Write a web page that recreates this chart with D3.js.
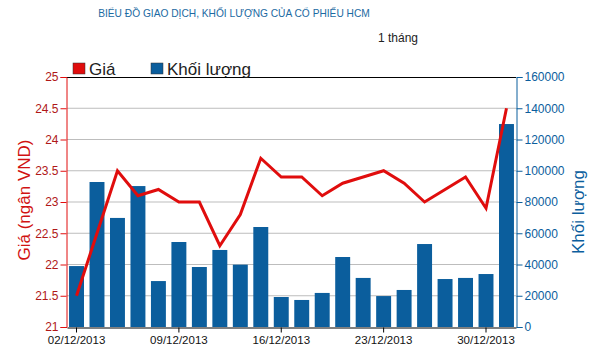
<!DOCTYPE html>
<html lang="vi">
<head>
<meta charset="UTF-8">
<title>HCM</title>
<script src="https://d3js.org/d3.v7.min.js"></script>
<style>
  body { margin: 0; background: #fff; }
  svg { display: block; font-family: "Liberation Sans", Arial, sans-serif; }
</style>
</head>
<body>
<svg width="593" height="352"></svg>
<script>
// data
let dates = ["02/12/2013","03/12/2013","04/12/2013","05/12/2013","06/12/2013",
             "09/12/2013","10/12/2013","11/12/2013","12/12/2013","13/12/2013",
             "16/12/2013","17/12/2013","18/12/2013","19/12/2013","20/12/2013",
             "23/12/2013","24/12/2013","25/12/2013","26/12/2013","27/12/2013",
             "30/12/2013","31/12/2013"];
let price = [21.5, 22.5, 23.5, 23.1, 23.2, 23.0, 23.0, 22.3, 22.8, 23.7, 23.4,
             23.4, 23.1, 23.3, 23.4, 23.5, 23.3, 23.0, 23.2, 23.4, 22.9, 24.5];
let volume = [39000, 92800, 69800, 90200, 29400, 54400, 38400, 49300, 39900, 64000, 19200,
              17300, 21800, 44800, 31400, 19800, 23700, 53100, 30700, 31400, 33900, 129900];
let xTickLabels = ["02/12/2013","09/12/2013","16/12/2013","23/12/2013","30/12/2013"];
let priceTicks = [21, 21.5, 22, 22.5, 23, 23.5, 24, 24.5, 25];
let volTicks = [0, 20000, 40000, 60000, 80000, 100000, 120000, 140000, 160000];

let red = "#e00d0d", blue = "#0b5e9d", title = "#1c6aa2";
let svg = d3.select("svg");
let m = {left: 67, right: 516, top: 77, bottom: 327};

let x = d3.scaleBand().domain(dates).range([m.left, m.right])
          .paddingInner(0.27).paddingOuter(0.1);
let yP = d3.scaleLinear().domain([21, 25]).range([m.bottom, m.top]);
let yV = d3.scaleLinear().domain([0, 160000]).range([m.bottom, m.top]);

// title
svg.append("text").attr("x", 234).attr("y", 17).attr("text-anchor", "middle")
   .style("font-size", "10.2px").style("fill", title)
   .text("BIỂU ĐỒ GIAO DỊCH, KHỐI LƯỢNG CỦA CỔ PHIẾU HCM");
svg.append("text").attr("x", 418).attr("y", 42).attr("text-anchor", "end")
   .style("font-size", "12px").style("fill", "#222").text("1 tháng");

// grid
svg.append("g").selectAll("line").data(priceTicks.slice(1, -1)).enter().append("line")
   .attr("x1", m.left).attr("x2", m.right)
   .attr("y1", d => yP(d)).attr("y2", d => yP(d))
   .style("stroke", "#bdbdbd").style("stroke-width", 1);

// bars
svg.append("g").selectAll("rect").data(volume).enter().append("rect")
   .attr("x", (d, i) => x(dates[i]))
   .attr("y", d => yV(d))
   .attr("width", x.bandwidth())
   .attr("height", d => m.bottom - yV(d))
   .style("fill", blue);

// price line
let line = d3.line().x((d, i) => x(dates[i]) + x.bandwidth() / 2).y(d => yP(d));
svg.append("path").datum(price).attr("d", line)
   .style("fill", "none").style("stroke", red).style("stroke-width", 3)
   .style("stroke-linejoin", "miter");

// top border
svg.append("line").attr("x1", m.left).attr("x2", m.right)
   .attr("y1", m.top + 0.5).attr("y2", m.top + 0.5).style("stroke", "#000");

// left axis
let ax1 = svg.append("g").attr("transform", "translate(" + (m.left - 0.5) + ",0)")
   .call(d3.axisLeft(yP).tickValues(priceTicks).tickSize(6).tickPadding(2).tickFormat(d3.format("")));
ax1.selectAll("path, line").style("stroke", red);
ax1.selectAll("text").style("fill", "#b01818").style("font-size", "12px")
   .style("font-family", "Liberation Sans, Arial, sans-serif");

// right axis
let ax2 = svg.append("g").attr("transform", "translate(" + (m.right + 0.5) + ",0)")
   .call(d3.axisRight(yV).tickValues(volTicks).tickSize(6).tickPadding(2).tickFormat(d3.format("d")));
ax2.selectAll("path, line").style("stroke", blue);
ax2.selectAll("text").style("fill", blue).style("font-size", "12px")
   .style("font-family", "Liberation Sans, Arial, sans-serif");

// bottom axis
let ax3 = svg.append("g").attr("transform", "translate(0," + (m.bottom + 0.5) + ")")
   .call(d3.axisBottom(x).tickValues(xTickLabels).tickSize(5).tickPadding(3).tickSizeOuter(0));
ax3.selectAll("path, line").style("stroke", "#000");
ax3.selectAll("text").style("fill", "#111").style("font-size", "11.5px")
   .style("font-family", "Liberation Sans, Arial, sans-serif");

// axis titles
svg.append("text").attr("transform", "translate(30,200) rotate(-90)")
   .attr("text-anchor", "middle").style("font-size", "17px").style("fill", "#d11212")
   .text("Giá (ngân VND)");
svg.append("text").attr("transform", "translate(584,212) rotate(-90)")
   .attr("text-anchor", "middle").style("font-size", "17px").style("fill", blue)
   .text("Khối lượng");

// legend
let legend = [{name: "Giá", color: red, x: 73}, {name: "Khối lượng", color: blue, x: 151}];
let lg = svg.append("g").selectAll("g").data(legend).enter().append("g");
lg.append("rect").attr("x", d => d.x).attr("y", 63).attr("width", 12).attr("height", 11)
  .style("fill", d => d.color).style("stroke", "#333").style("stroke-width", 0.5);
lg.append("text").attr("x", d => d.x + 16).attr("y", 75)
  .style("font-size", "17px").style("fill", "#222").text(d => d.name);
</script>
</body>
</html>
